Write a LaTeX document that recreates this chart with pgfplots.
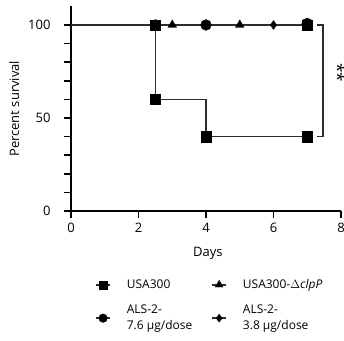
\documentclass[border=0pt]{standalone}
\usepackage{pgfplots}
\pgfplotsset{compat=1.18}
\usepackage{fontspec}
\setmainfont{Open Sans}
\definecolor{ln}{RGB}{45,45,45}
\begin{document}
\begin{tikzpicture}
\path[use as bounding box] (-71pt,-129pt) rectangle (273pt,211pt);
\begin{axis}[
  at={(0pt,0pt)}, anchor=origin,
  scale only axis, width=270pt, height=204.6pt,
  xmin=0, xmax=8, ymin=0, ymax=110,
  axis lines=left, axis line style={-, line width=2.4pt},
  xtick={0,2,4,6,8}, ytick={0,50,100}, minor ytick={10,20,30,40,60,70,80,90},
  tick align=outside, major tick length=7pt, minor tick length=7pt,
  every tick/.style={line width=1.6pt, black},
  tick label style={font=\fontsize{13}{15}\selectfont},
  yticklabel style={xshift=-10pt},
  xticklabel style={yshift=-2pt},
  /pgf/number format/assume math mode=true,
  xlabel={Days}, ylabel={Percent survival},
  label style={font=\fontsize{13}{15}\selectfont},
  xlabel style={at={(axis description cs:0.507,-0.205)}, anchor=center},
  ylabel style={at={(axis description cs:-0.21,0.50)}, anchor=center},
  clip=false,
  legend columns=2,
  legend cell align=left,
  legend style={at={(axis description cs:0.078,-0.314)}, anchor=north west, draw=none, fill=none,
    font=\fontsize{12}{16}\selectfont, nodes={align=left, inner sep=2pt},
    /tikz/every even column/.append style={column sep=17pt},
    /tikz/every odd column/.append style={column sep=14pt},
    row sep=11pt},
]
% survival lines
\addplot[ln, line width=1.6pt, forget plot] coordinates {(0,100) (7,100)};
\addplot[ln, line width=1.6pt, forget plot] coordinates {(2.5,100) (2.5,60) (4,60) (4,40) (7,40)};
% markers
\addplot[only marks, mark=square*, mark size=5.2pt, black,
  legend image code/.code={\draw[ln, line width=1.6pt] (0pt,0pt) -- (14pt,0pt); \draw[black] plot[mark size=4pt] coordinates {(7pt,0pt)};}] coordinates {(2.5,100) (2.5,60) (4,40) (7,40) (7,100)};
\addlegendentry{USA300}
\addplot[only marks, mark=triangle*, mark size=5pt, black,
  legend image code/.code={\draw[ln, line width=1.6pt] (0pt,0pt) -- (14pt,0pt); \draw[black] plot[mark size=4.5pt] coordinates {(7pt,0pt)};}] coordinates {(3,100) (5,100)};
\addlegendentry{USA300-$\Delta$\textit{clpP}}
\addplot[only marks, mark=*, mark size=5.4pt, black,
  legend image code/.code={\draw[ln, line width=1.6pt] (0pt,0pt) -- (14pt,0pt); \draw[black] plot[mark size=4.3pt] coordinates {(7pt,0pt)};}] coordinates {(2.5,100) (4,100) (7,100.8)};
\addlegendentry{ALS-2-\\7.6 µg/dose}
\addplot[only marks, mark=diamond*, mark size=4.4pt, black,
  legend image code/.code={\draw[ln, line width=1.6pt] (0pt,0pt) -- (14pt,0pt); \draw[black] plot[mark size=4pt] coordinates {(7pt,0pt)};}] coordinates {(6,100)};
\addlegendentry{ALS-2-\\3.8 µg/dose}
% bracket
\draw[ln, line width=1.5pt] (axis cs:7.3,100) -- (axis cs:7.47,100) -- (axis cs:7.47,40) -- (axis cs:7.3,40);
\node[rotate=-90, font=\fontsize{17}{17}\selectfont] at (axis cs:7.91,74.5) {**};
\end{axis}
\end{tikzpicture}
\end{document}
